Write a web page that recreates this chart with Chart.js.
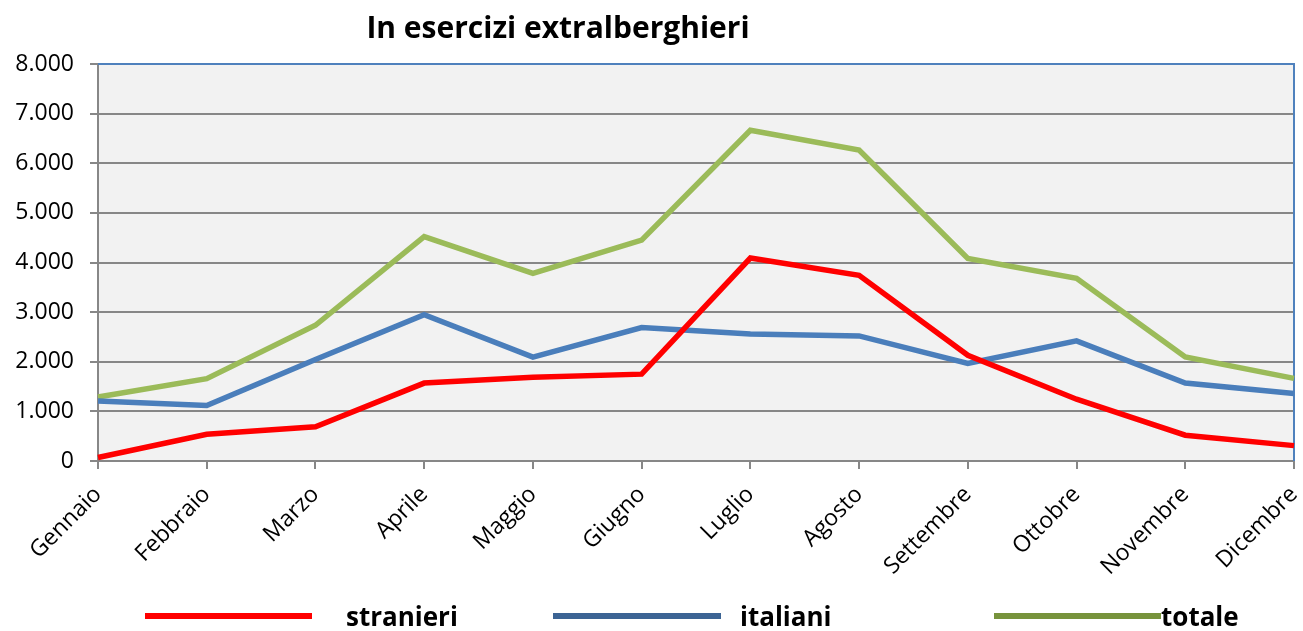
<!DOCTYPE html>
<html>
<head>
<meta charset="utf-8">
<script src="https://cdn.jsdelivr.net/npm/chart.js@4/dist/chart.umd.min.js"></script>
<style>
  html, body { margin: 0; padding: 0; background: #ffffff; }
  #wrap { width: 1303px; height: 631px; position: relative; }
</style>
</head>
<body>
<div id="wrap"><canvas id="c" width="1303" height="631"></canvas></div>
<script>
const chartTitle = 'In esercizi extralberghieri';
const categories = ['Gennaio', 'Febbraio', 'Marzo', 'Aprile', 'Maggio', 'Giugno', 'Luglio', 'Agosto', 'Settembre', 'Ottobre', 'Novembre', 'Dicembre'];
const seriesNames = ['stranieri', 'italiani', 'totale'];
const stranieri = [70, 540, 690, 1570, 1690, 1750, 4090, 3740, 2130, 1245, 520, 310];
const italiani = [1210, 1120, 2045, 2950, 2095, 2690, 2560, 2520, 1965, 2420, 1570, 1360];
const totale = [1290, 1660, 2735, 4520, 3780, 4450, 6665, 6265, 4080, 3680, 2095, 1665];
const yTickLabels = ['0', '1.000', '2.000', '3.000', '4.000', '5.000', '6.000', '7.000', '8.000'];

const FONT = "'Open Sans', 'DejaVu Sans', sans-serif";

const decorPlugin = {
  id: 'decor',
  beforeDraw(chart) {
    const { ctx, chartArea: a } = chart;
    ctx.save();
    ctx.fillStyle = '#f2f2f2';
    ctx.fillRect(a.left, a.top, a.right - a.left, a.bottom - a.top);
    ctx.restore();
  },
  beforeDatasetsDraw(chart) {
    const { ctx, chartArea: a } = chart;
    ctx.save();
    ctx.strokeStyle = '#4f81bd';
    ctx.lineWidth = 2;
    ctx.beginPath();
    ctx.moveTo(a.left, a.top);
    ctx.lineTo(a.right, a.top);
    ctx.lineTo(a.right, a.bottom);
    ctx.stroke();
    ctx.restore();
  },
  afterDraw(chart) {
    const { ctx } = chart;
    ctx.save();
    ctx.fillStyle = '#000000';
    ctx.font = "bold 30px " + FONT;
    ctx.textAlign = 'center';
    ctx.textBaseline = 'alphabetic';
    ctx.fillText(chartTitle, 558, 38);
    const leg = [
      { x0: 145, x1: 312, tx: 346, color: '#ff0000' },
      { x0: 553, x1: 721, tx: 740, color: '#3c6494' },
      { x0: 994, x1: 1161, tx: 1161, color: '#77933c' }
    ];
    ctx.font = "bold 26px " + FONT;
    ctx.textAlign = 'left';
    chart.data.datasets.forEach((ds, i) => {
      const l = leg[i];
      ctx.fillStyle = l.color;
      ctx.fillRect(l.x0, 613, l.x1 - l.x0, 6);
      ctx.fillStyle = '#000000';
      ctx.fillText(ds.label, l.tx, 626);
    });
    ctx.restore();
  }
};

new Chart(document.getElementById('c'), {
  type: 'line',
  data: {
    labels: categories,
    datasets: [
      { label: seriesNames[0], data: stranieri, borderColor: '#ff0000', backgroundColor: '#ff0000', borderWidth: 5.5, pointRadius: 0, tension: 0 },
      { label: seriesNames[1], data: italiani, borderColor: '#4a7ebb', backgroundColor: '#4a7ebb', borderWidth: 5.5, pointRadius: 0, tension: 0 },
      { label: seriesNames[2], data: totale, borderColor: '#9bbb59', backgroundColor: '#9bbb59', borderWidth: 5.5, pointRadius: 0, tension: 0 }
    ]
  },
  options: {
    responsive: false,
    animation: false,
    devicePixelRatio: 1,
    layout: { padding: { top: 64, right: 9, left: 0, bottom: 0 } },
    plugins: {
      legend: { display: false },
      title: { display: false },
      tooltip: { enabled: false }
    },
    scales: {
      x: {
        offset: false,
        grid: { drawOnChartArea: false, drawTicks: true, tickLength: 8, color: '#878787', lineWidth: 2 },
        border: { color: '#878787', width: 2 },
        ticks: {
          color: '#000000',
          font: { family: FONT, size: 23 },
          maxRotation: 45, minRotation: 45, autoSkip: false, padding: 12
        },
        afterFit(s) { s.height = 170; s.paddingRight = 0; s.paddingLeft = 0; }
      },
      y: {
        min: 0, max: 8000,
        grid: { color: '#878787', lineWidth: 2, drawTicks: true, tickLength: 8 },
        border: { color: '#878787', width: 2 },
        ticks: {
          stepSize: 1000,
          color: '#000000',
          font: { family: FONT, size: 23 },
          padding: 16,
          callback: (v, i) => yTickLabels[i]
        },
        afterFit(s) { s.width = 98; }
      }
    }
  },
  plugins: [decorPlugin]
});
</script>
</body>
</html>
